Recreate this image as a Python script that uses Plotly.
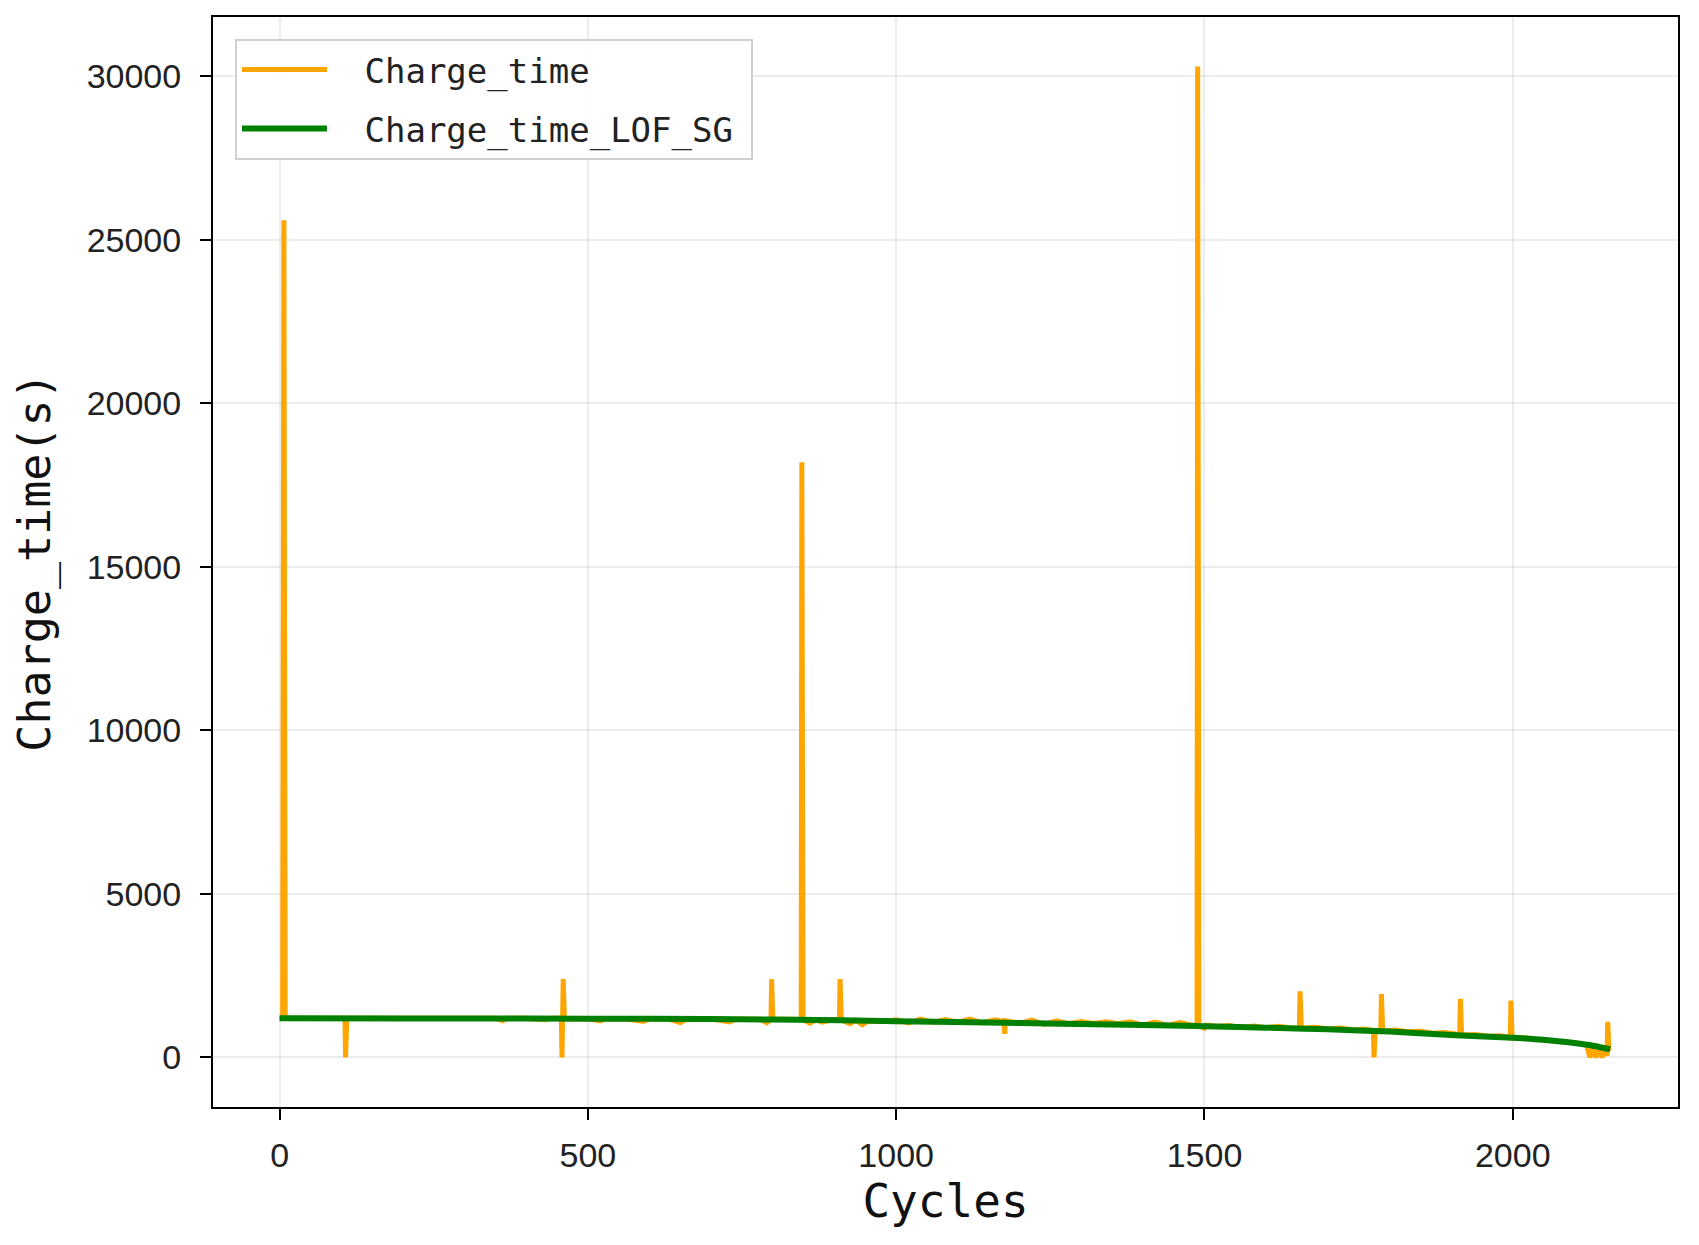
import plotly.graph_objects as go

# raw charge time per cycle (spikes = outliers)
cycles = [0, 5, 7, 9, 50, 106, 107, 109, 150, 200, 250, 300, 350, 362, 368, 400,
          430, 440, 457, 458, 460, 462, 500, 520, 530, 560, 590, 600, 630, 650, 660, 700,
          730, 740, 780, 790, 797, 798, 800, 820, 846, 847, 849, 860, 870, 880, 895, 908,
          909, 911, 925, 935, 945, 955, 980, 1000, 1020, 1040, 1060, 1080, 1100, 1120, 1140, 1160,
          1175, 1176, 1177, 1200, 1220, 1240, 1260, 1280, 1300, 1320, 1340, 1360, 1380, 1400, 1420, 1440,
          1460, 1480, 1488, 1489, 1491, 1500, 1503, 1520, 1540, 1560, 1580, 1600, 1620, 1640, 1654, 1655,
          1657, 1680, 1700, 1720, 1740, 1760, 1774, 1775, 1777, 1786, 1787, 1789, 1810, 1830, 1850, 1870,
          1890, 1914, 1915, 1917, 1940, 1960, 1980, 1996, 1997, 1999, 2020, 2040, 2060, 2080, 2100, 2120,
          2125, 2130, 2135, 2140, 2145, 2150, 2153, 2154, 2156]
charge_time = [1200, 1200, 25600, 1200, 1200, 1200, 0, 1200, 1200, 1200, 1200, 1198, 1195, 1120, 1195, 1195,
               1150, 1195, 1195, 0, 2400, 1190, 1185, 1120, 1185, 1180, 1100, 1180, 1175, 1070, 1170, 1175,
               1090, 1170, 1165, 1060, 1160, 2400, 1160, 1170, 1160, 18200, 1160, 1050, 1150, 1080, 1150, 1150,
               2400, 1145, 1030, 1140, 1000, 1120, 1100, 1150, 1060, 1170, 1070, 1160, 1080, 1170, 1060, 1150,
               1100, 720, 1120, 1040, 1140, 1010, 1120, 1030, 1100, 1040, 1090, 1030, 1090, 990, 1080, 980,
               1070, 990, 980, 30300, 970, 900, 990, 950, 980, 920, 960, 910, 950, 900, 900, 2020,
               890, 920, 870, 900, 850, 870, 820, 0, 830, 820, 1940, 810, 840, 790, 800, 740,
               760, 700, 1790, 690, 700, 650, 660, 610, 1740, 590, 600, 550, 530, 480, 450, 380,
               0, 300, 0, 280, 0, 250, 50, 1090, 200]

# LOF + Savitzky-Golay smoothed curve
cycles_sg = [0, 200, 400, 600, 800, 1000, 1200, 1400, 1500, 1600, 1700, 1800, 1900, 2000,
             2050, 2100, 2130, 2158]
charge_time_sg = [1195, 1192, 1188, 1180, 1160, 1110, 1050, 990, 955, 910, 860, 790, 690, 600,
                  540, 440, 360, 250]

gap = '<span style="font-size:27px">\u00a0\u00a0</span>'
tail = '<span style="font-size:20px">\u00a0</span>'

fig = go.Figure()
fig.add_trace(go.Scatter(x=cycles, y=charge_time, mode="lines", name=gap + "Charge_time",
                         legendgroup="a", line=dict(color="#FFA500", width=5)))
fig.add_trace(go.Scatter(x=cycles_sg, y=charge_time_sg, mode="lines",
                         name=gap + "Charge_time_LOF_SG" + tail,
                         legendgroup="b", line=dict(color="#008000", width=6, shape="spline")))

axis_common = dict(showline=True, linecolor="black", linewidth=2, mirror=True,
                   ticks="outside", ticklen=11, tickwidth=2, tickcolor="black",
                   showgrid=True, gridcolor="rgba(0,0,0,0.07)", gridwidth=2, zeroline=False,
                   automargin=False, tickformat="d",
                   tickfont=dict(family="Liberation Sans, Arial", size=34, color="#222"))

fig.update_xaxes(range=[-108, 2268], tickvals=[0, 500, 1000, 1500, 2000],
                 ticklabelstandoff=6,
                 title=dict(text="Cycles", font=dict(family="DejaVu Sans Mono", size=46, color="#111"),
                            standoff=12),
                 **axis_common)
fig.update_yaxes(range=[-1515, 31815], tickvals=[0, 5000, 10000, 15000, 20000, 25000, 30000],
                 ticklabelstandoff=12,
                 title=dict(text="Charge_time(s)", font=dict(family="DejaVu Sans Mono", size=45, color="#111"),
                            standoff=22),
                 **axis_common)

# page body has an 8px margin, so the figure is a bit smaller than the window
fig.update_layout(
    width=1691, height=1237,
    margin=dict(l=205, r=21, t=9, b=138),
    plot_bgcolor="white", paper_bgcolor="white",
    showlegend=True,
    legend=dict(x=0.015, y=0.98, xanchor="left", yanchor="top",
                bgcolor="rgba(255,255,255,0.9)", bordercolor="#d0d0d0", borderwidth=2,
                font=dict(family="DejaVu Sans Mono", size=34, color="#222"),
                itemwidth=85, tracegroupgap=12),
)

fig.write_html("out.html")
